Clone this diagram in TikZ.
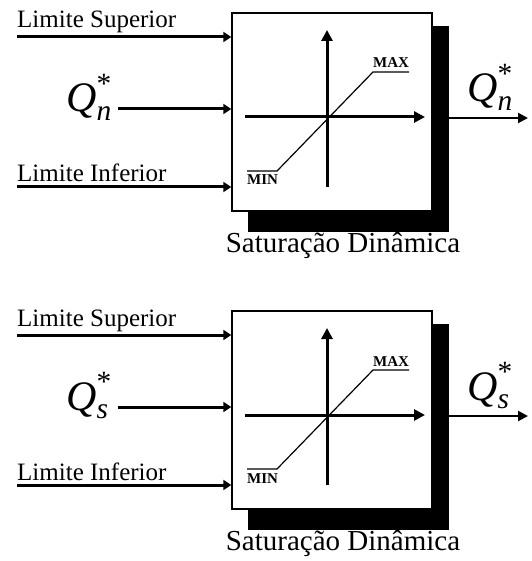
\documentclass[tikz,border=0pt]{standalone}
\usepackage{fontspec}
\setmainfont{Liberation Serif}
\usepackage{amsmath}
\usetikzlibrary{arrows.meta}

\begin{document}
\begin{tikzpicture}[x=1pt, y=-1pt,
  satbox/.style={draw, fill=white, line width=1.5pt, minimum width=200pt,
    minimum height=198pt, inner sep=0pt},
  shadowbox/.style={fill=black, minimum width=201pt, minimum height=206pt, inner sep=0pt},
  limlabel/.style={inner sep=0pt, font=\fontsize{25}{30}\selectfont},
  qlabel/.style={inner sep=0pt, font=\fontsize{42}{48}\selectfont},
  mmlabel/.style={inner sep=0pt, font=\fontsize{15}{18}\selectfont\bfseries},
  titlelabel/.style={inner sep=0pt, font=\fontsize{29}{34}\selectfont},
  inarrow/.style={line width=3pt, -{Triangle[length=8pt,width=10pt]}},
  outarrow/.style={line width=2pt, -{Triangle[length=10pt,width=10pt]}},
  axisarrow/.style={line width=3pt, -{Triangle[length=11pt,width=11pt]}},
  satline/.style={line width=1.2pt}]

  \useasboundingbox (0,0) rectangle (531,561);

  % === Two dynamic saturation blocks, one above the other ===
  \def\dy{298}       % vertical offset of the second block

  \foreach \k/\sub in {0/n, 1/s} {
    \pgfmathsetmacro{\yo}{\k * \dy}

    % Shadow and block
    \node[shadowbox] (shadow\sub) at (348.5, 129 + \yo) {};
    \node[satbox] (box\sub) at (332, 112 + \yo) {};

    % Axes of the characteristic
    \coordinate (ybot\sub) at (327, 187 + \yo);
    \coordinate (ytop\sub) at (327, 30 + \yo);
    \coordinate (xleft\sub) at (245, 117 + \yo);
    \coordinate (xright\sub) at (425, 117 + \yo);
    \draw[axisarrow] (ybot\sub) -- (ytop\sub);
    \draw[axisarrow] (xleft\sub) -- (xright\sub);

    % Saturation curve with MIN / MAX levels
    \draw[satline] (247, 171 + \yo) -- (277, 171 + \yo)
      -- (373, 72 + \yo) -- (409, 72 + \yo);
    \node[mmlabel, anchor=base west] (max\sub) at (373, 68 + \yo) {MAX};
    \node[mmlabel, anchor=base west] (min\sub) at (247, 185 + \yo) {MIN};

    % Inputs
    \node[limlabel, anchor=base west] (sup\sub) at (17, 28 + \yo) {Limite Superior};
    \coordinate (supin\sub) at (17, 37 + \yo);
    \draw[inarrow] (supin\sub) -- (supin\sub -| box\sub.west);

    \node[qlabel, anchor=base east] (qin\sub) at (112, 112 + \yo)
      {$\text{\itshape Q}_{\text{\itshape \sub}}^{\text{*}}$};
    \coordinate (qstart\sub) at (118, 109 + \yo);
    \draw[inarrow] (qstart\sub) -- (qstart\sub -| box\sub.west);

    \node[limlabel, anchor=base west] (inf\sub) at (17, 182 + \yo) {Limite Inferior};
    \coordinate (infin\sub) at (17, 187 + \yo);
    \draw[inarrow] (infin\sub) -- (infin\sub -| box\sub.west);

    % Output
    \coordinate (out\sub) at (528, 118 + \yo);
    \draw[outarrow] (shadow\sub.east |- out\sub) -- (out\sub);
    \node[qlabel, anchor=base west] (qout\sub) at (467, 102 + \yo)
      {$\text{\itshape Q}_{\text{\itshape \sub}}^{\text{*}}$};

    % Block title
    \node[titlelabel, anchor=base] (title\sub) at (343, 252 + \yo) {Saturação Dinâmica};
  }

\end{tikzpicture}
\end{document}
